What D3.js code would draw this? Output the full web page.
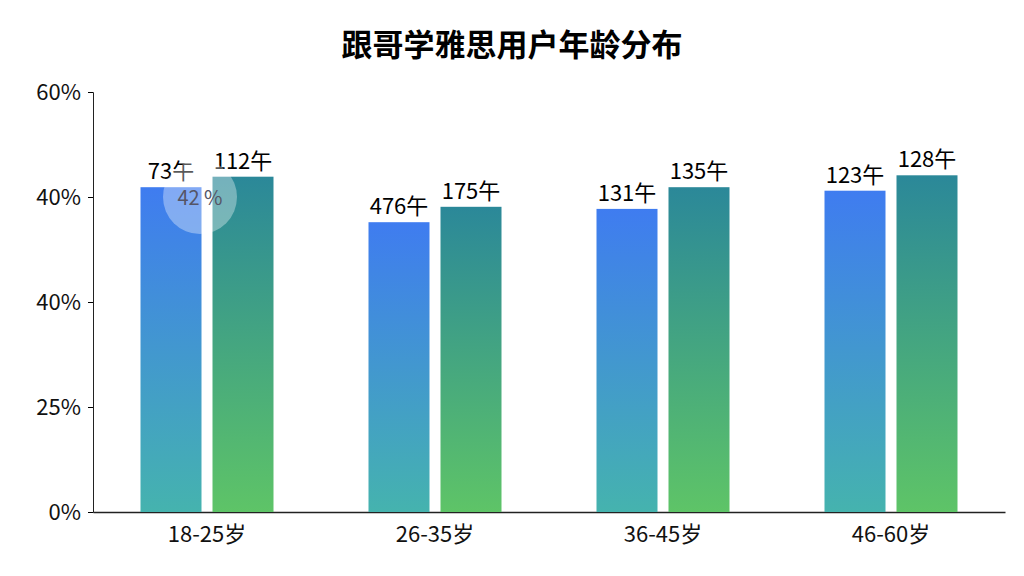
<!DOCTYPE html><html><head><meta charset="utf-8"><script src="https://cdn.jsdelivr.net/npm/d3@7"></script>
<style>body{margin:0;background:#fff}text{font-family:"Noto Sans CJK SC","Noto Sans",sans-serif}</style></head><body><svg id="c" width="1024" height="576"></svg><script>
const categories=["18-25岁","26-35岁","36-45岁","46-60岁"];
const seriesA=[46.4,41.4,43.3,45.9];
const seriesB=[47.9,43.6,46.4,48.1];
const labelsA=["73午","476午","131午","123午"];
const labelsB=["112午","175午","135午","128午"];
const tickValues=[0,15,30,45,60];
const tickLabels=["0%","25%","40%","40%","60%"];
const svg=d3.select("#c");
const defs=svg.append("defs");
function grad(id,c1,c2){const g=defs.append("linearGradient").attr("id",id).attr("x1",0).attr("y1",0).attr("x2",0).attr("y2",1);g.append("stop").attr("offset","0").attr("stop-color",c1);g.append("stop").attr("offset","1").attr("stop-color",c2);}
grad("ga","#3f7cf0","#45b3ae");grad("gb","#2b8899","#5ec467");
const x=d3.scaleBand().domain(categories).range([93,1005]);
const y=d3.scaleLinear().domain([0,60]).range([512,92]);
svg.append("text").attr("x",512).attr("y",56).attr("text-anchor","middle").attr("font-size",31).attr("font-weight","bold").text("跟哥学雅思用户年龄分布");
const ya=svg.append("g").attr("transform","translate(93,0)").call(d3.axisLeft(y).tickValues(tickValues).tickFormat((d,i)=>tickLabels[i]).tickSize(5));
ya.selectAll("text").attr("font-size",22).attr("fill","#111").attr("x",-12);
ya.select(".domain").attr("stroke","#222");
const xa=svg.append("g").attr("transform","translate(0,512)").call(d3.axisBottom(x).tickSize(0).tickPadding(14));
xa.selectAll("text").attr("font-size",22).attr("fill","#111");
xa.select(".domain").attr("stroke","#222").attr("stroke-width",1.5);
const bw=61,gap=11;
categories.forEach((c,i)=>{
 const cx=x(c)+x.bandwidth()/2;
 const xa0=cx-gap/2-bw, xb0=cx+gap/2;
 svg.append("rect").attr("x",xa0).attr("y",y(seriesA[i])).attr("width",bw).attr("height",y(0)-y(seriesA[i])).attr("fill","url(#ga)");
 svg.append("rect").attr("x",xb0).attr("y",y(seriesB[i])).attr("width",bw).attr("height",y(0)-y(seriesB[i])).attr("fill","url(#gb)");
 svg.append("text").attr("x",xa0+bw/2).attr("y",y(seriesA[i])-8).attr("text-anchor","middle").attr("font-size",22).text(labelsA[i]);
 svg.append("text").attr("x",xb0+bw/2).attr("y",y(seriesB[i])-8).attr("text-anchor","middle").attr("font-size",22).text(labelsB[i]);
});
svg.append("circle").attr("cx",200).attr("cy",197).attr("r",37).attr("fill","rgba(255,255,255,0.35)");
svg.append("text").attr("x",200).attr("y",205).attr("text-anchor","middle").attr("font-size",20).attr("fill","#556").text("42 %");
</script></body></html>
